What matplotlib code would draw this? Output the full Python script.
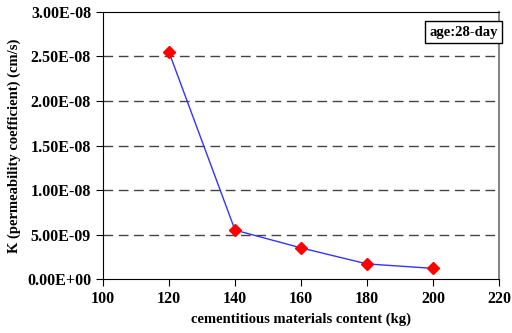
import matplotlib
matplotlib.use("Agg")
import matplotlib.pyplot as plt
from matplotlib.ticker import FuncFormatter

# cementitious content (kg) vs permeability coefficient (cm/s)
content = [120, 140, 160, 180, 200]
k_values = [2.55e-8, 5.5e-9, 3.5e-9, 1.7e-9, 1.2e-9]

plt.rcParams['font.family'] = ['Liberation Serif', 'DejaVu Serif']
plt.rcParams['font.weight'] = 'bold'

fig = plt.figure(figsize=(5.12, 3.33), dpi=100)
ax = fig.add_axes([0.201, 0.162, 0.774, 0.802])

ax.plot(content, k_values, color='#3333ff', linewidth=1.0, marker='D',
        markersize=6, markerfacecolor='red', markeredgecolor='red', zorder=3)

ax.set_xlim(100, 220)
ax.set_ylim(0, 3.0e-8)
ax.set_xticks(range(100, 221, 20))
ax.set_yticks([i * 5e-9 for i in range(7)])

def sci(v, pos):
    return "%.2E" % v

ax.yaxis.set_major_formatter(FuncFormatter(sci))
ax.tick_params(direction='out', length=5, labelsize=11.5)
for lab in ax.get_xticklabels() + ax.get_yticklabels():
    lab.set_fontweight('bold')

for y in ax.get_yticks()[1:-1]:
    ax.axhline(y, color='#444444', linestyle=(0, (7, 4)), linewidth=1.0, zorder=1)

ax.spines['right'].set_color('#888888')
ax.spines['right'].set_linewidth(1.5)

ax.set_xlabel("cementitious materials content (kg)", fontsize=10.5, fontweight='bold')
ax.set_ylabel("K (permeability coefficient) (cm/s)", fontsize=10.5, fontweight='bold')

ax.text(0.997, 0.925, "age:28-day", transform=ax.transAxes, ha='right', va='center',
        fontsize=10.5, fontweight='bold',
        bbox=dict(boxstyle='square,pad=0.3', facecolor='white', edgecolor='black', linewidth=1))

fig.savefig("out.png", dpi=100)
